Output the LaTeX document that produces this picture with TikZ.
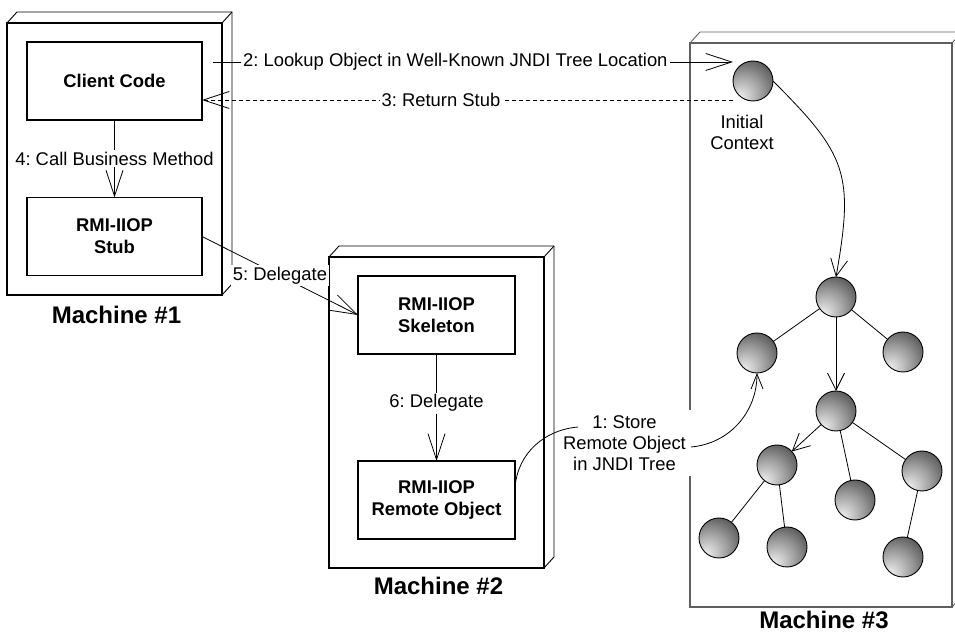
\documentclass[tikz,border=0pt]{standalone}
\usepackage{fontspec}
\setmainfont{Liberation Sans}
\usetikzlibrary{arrows.meta,calc,positioning}
\frenchspacing
\definecolor{framegray}{RGB}{95,95,95}
\pgfdeclareradialshading{jndiball}{\pgfpoint{-18bp}{-22bp}}{%
  color(0bp)=(black!5); color(4bp)=(black!10); color(24bp)=(black!40);
  color(46bp)=(black!76); color(75bp)=(black!92)}
\tikzset{
  machine/.style={draw,line width=1.5pt,inner sep=0pt,outer sep=0pt},
  depth/.style={draw,line width=0.9pt},
  machlabel/.style={font=\fontsize{24}{28}\selectfont\bfseries,inner sep=0pt},
  comp/.style={draw,line width=1.5pt,font=\fontsize{18.4}{22}\selectfont\bfseries,
    align=center,minimum height=78pt,inner sep=0pt,outer sep=0pt},
  lbl/.style={fill=white,font=\fontsize{18.4}{21}\selectfont,inner sep=2pt,align=center},
  conn/.style={line width=0.8pt},
  msg/.style={conn,-{Straight Barb[length=26pt,width=17pt]}},
  ret/.style={msg,dash pattern=on 4pt off 3pt},
  jarrow/.style={conn,-{Straight Barb[length=17pt,width=17pt]}},
  jndi/.style={circle,draw,line width=0.9pt,minimum size=40pt,inner sep=0pt,
    outer sep=0pt,shading=jndiball}
}

\begin{document}
\begin{tikzpicture}[x=1pt,y=1pt]
  \clip (0,0) rectangle (955,634);

  % Three deployment nodes, drawn as boxes with depth.
  \node[machine,minimum width=215pt,minimum height=272pt] (m1) at (114.5,475) {};
  \draw[depth] (m1.north west) -- ++(10,11) -| ([shift={(10,11)}]m1.south east) -- (m1.south east);
  \draw[depth] (m1.north east) -- ++(10,11);
  \node[machlabel,below=11pt of m1,xshift=2pt] (m1lbl) {Machine \#1};

  \node[machine,minimum width=215pt,minimum height=311pt] (m2) at (436.5,221.5) {};
  \draw[depth] (m2.north west) -- ++(10,11) -| ([shift={(10,11)}]m2.south east) -- (m2.south east);
  \draw[depth] (m2.north east) -- ++(10,11);
  \node[machlabel,below=9pt of m2,xshift=2pt] (m2lbl) {Machine \#2};

  \node[machine,draw=framegray,line width=1.2pt,minimum width=262pt,minimum height=564pt] (m3) at (821,309) {};
  \draw[depth,draw=framegray] (m3.north west) -- ++(10,11) -| ([shift={(10,11)}]m3.south east) -- (m3.south east);
  \draw[depth,draw=framegray] (m3.north east) -- ++(10,11);
  \node[machlabel,below=4pt of m3,xshift=3pt] (m3lbl) {Machine \#3};

  \node[comp,minimum width=175pt] (client) at (114.5,553) {Client Code};
  \node[comp,minimum width=175pt] (stub) at (114.5,397.5) {RMI-IIOP\\Stub};
  \node[comp,minimum width=157pt] (skel) at (436.5,319) {RMI-IIOP\\Skeleton};
  \node[comp,minimum width=157pt] (remote) at (436.5,134) {RMI-IIOP\\Remote Object};

  % JNDI tree
  \node[jndi] (ic) at (753,553) {};
  \node[lbl,fill=none] (icl) at (742,502) {Initial\\Context};
  \node[jndi] (root) at (836,337) {};
  \node[jndi] (lc) at (757,281) {};
  \node[jndi] (rc) at (903,282) {};
  \node[jndi] (mc) at (836,223) {};
  \node[jndi] (c1) at (777,169) {};
  \node[jndi] (c2) at (855,134) {};
  \node[jndi] (c3) at (922,163) {};
  \node[jndi] (l1) at (719,96) {};
  \node[jndi] (l2) at (787,87) {};
  \node[jndi] (l3) at (903,77) {};

  \draw[conn] (root) -- (lc);
  \draw[conn] (root) -- (rc);
  \draw[jarrow] (root) -- (mc);
  \draw[jarrow] (mc) -- (c1);
  \draw[conn] (mc) -- (c2);
  \draw[conn] (mc) -- (c3);
  \draw[conn] (c1) -- (l1);
  \draw[conn] (c1) -- (l2);
  \draw[conn] (c3) -- (l3);
  \draw[jarrow] (ic.east) to[out=-45,in=80,looseness=1.3] (root.north);

  % Messages
  \draw[msg] ([xshift=11pt,yshift=19pt]client.east) --
    node[lbl,pos=0.466] {2: Lookup Object in Well-Known JNDI Tree Location} ([yshift=19pt]ic.west);
  \draw[ret] ([yshift=-19pt]ic.west) -- node[lbl,pos=0.55] {3: Return Stub} ([yshift=-19pt]client.east);
  \draw[msg] (client.south) -- node[lbl] {4: Call Business Method} (stub.north);
  \draw[msg] (stub.east) -- node[lbl] {5: Delegate} (skel.west);
  \draw[msg] (skel.south) -- node[lbl,pos=0.46] {6: Delegate} (remote.north);

  \node[lbl,inner sep=5pt] (store) at (624.5,191) {1: Store\\Remote Object\\in JNDI Tree};
  \coordinate (storein) at ($(store.center)+(-46.5,16)$);
  \draw[conn] ([yshift=13pt]remote.east) to[out=85,in=185] (storein);
  \draw[conn,-{Straight Barb[length=15pt,width=12pt]}] ([yshift=-4pt]store.east) to[out=5,in=-90] (lc.south);
\end{tikzpicture}
\end{document}
